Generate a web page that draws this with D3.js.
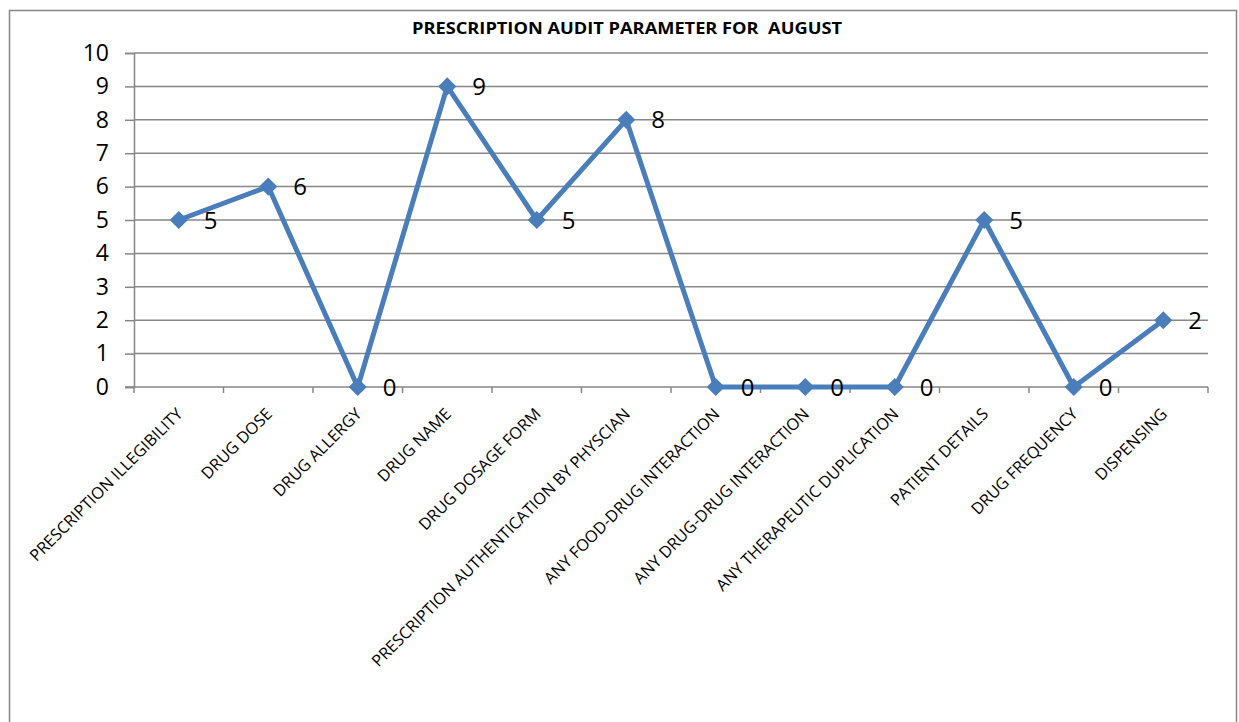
<!DOCTYPE html>
<html>
<head>
<meta charset="utf-8">
<script src="https://cdn.jsdelivr.net/npm/d3@7"></script>
<style>
  body { margin: 0; background: #fff; }
  svg { display: block; font-family: "Open Sans", "DejaVu Sans", sans-serif; }
</style>
</head>
<body>
<div id="chart"></div>
<script>
const categories = [
  "PRESCRIPTION ILLEGIBILITY",
  "DRUG DOSE",
  "DRUG ALLERGY",
  "DRUG NAME",
  "DRUG DOSAGE FORM",
  "PRESCRIPTION AUTHENTICATION BY PHYSCIAN",
  "ANY FOOD-DRUG INTERACTION",
  "ANY DRUG-DRUG INTERACTION",
  "ANY THERAPEUTIC DUPLICATION",
  "PATIENT DETAILS",
  "DRUG FREQUENCY",
  "DISPENSING"
];
const values = [5, 6, 0, 9, 5, 8, 0, 0, 0, 5, 0, 2];
const yTicks = [0, 1, 2, 3, 4, 5, 6, 7, 8, 9, 10];
const title = "PRESCRIPTION AUDIT PARAMETER FOR  AUGUST";

const W = 1239, H = 722;
const plotLeft = 134, plotRight = 1208, plotTop = 53, plotBottom = 387;
const lineColor = "#4a7ebb";
const gridColor = "#878787";

const svg = d3.select("#chart").append("svg")
  .attr("width", W)
  .attr("height", H);

// chart border
svg.append("rect")
  .attr("x", 9.5).attr("y", 10.5)
  .attr("width", 1227).attr("height", 730)
  .attr("fill", "none")
  .attr("stroke", gridColor)
  .attr("stroke-width", 1.5);

svg.append("text")
  .attr("x", 627).attr("y", 34)
  .attr("text-anchor", "middle")
  .attr("textLength", 430)
  .attr("lengthAdjust", "spacingAndGlyphs")
  .style("font-weight", "bold")
  .style("font-size", "16px")
  .style("white-space", "pre")
  .text(title);

const x = d3.scaleBand().domain(categories).range([plotLeft, plotRight]);
const y = d3.scaleLinear().domain([0, 10]).range([plotBottom, plotTop]);

// gridlines
svg.append("g")
  .selectAll("line")
  .data(yTicks.filter(d => d > 0))
  .enter()
  .append("line")
  .attr("x1", plotLeft).attr("x2", plotRight)
  .attr("y1", d => y(d)).attr("y2", d => y(d))
  .attr("stroke", gridColor)
  .attr("stroke-width", 1.5);

// y axis
const yAxis = svg.append("g")
  .attr("transform", `translate(${plotLeft},0)`)
  .call(d3.axisLeft(y).tickValues(yTicks).tickSize(9).tickPadding(16));
yAxis.select(".domain").attr("stroke", gridColor).attr("stroke-width", 1.5);
yAxis.selectAll(".tick line").attr("stroke", gridColor).attr("stroke-width", 1.5);
yAxis.selectAll(".tick text")
  .style("font-size", "23px")
  .style("font-family", "'Open Sans', sans-serif")
  .attr("fill", "#000");

// x axis
const xTickPos = categories.map(c => x(c)).concat([plotRight]);
const xAxisG = svg.append("g");
xAxisG.append("line")
  .attr("x1", plotLeft - 9).attr("x2", plotRight)
  .attr("y1", plotBottom).attr("y2", plotBottom)
  .attr("stroke", gridColor)
  .attr("stroke-width", 1.5);
xAxisG.selectAll(".xt")
  .data(xTickPos)
  .enter()
  .append("line")
  .attr("x1", d => d).attr("x2", d => d)
  .attr("y1", plotBottom).attr("y2", plotBottom + 6)
  .attr("stroke", gridColor)
  .attr("stroke-width", 1.5);

xAxisG.selectAll(".xl")
  .data(categories)
  .enter()
  .append("text")
  .attr("text-anchor", "end")
  .attr("transform", d => {
    const cx = x(d) + x.bandwidth() / 2 + 5;
    return `translate(${cx},${plotBottom + 28}) rotate(-45)`;
  })
  .style("font-size", "16.3px")
  .attr("fill", "#000")
  .text(d => d);

// line
const cxOf = (d, i) => x(categories[i]) + x.bandwidth() / 2;
const line = d3.line()
  .x((d, i) => cxOf(d, i))
  .y(d => y(d));

svg.append("path")
  .datum(values)
  .attr("d", line)
  .attr("fill", "none")
  .attr("stroke", lineColor)
  .attr("stroke-width", 5)
  .attr("stroke-linejoin", "round");

svg.append("g")
  .selectAll("path")
  .data(values)
  .enter()
  .append("path")
  .attr("d", d3.symbol().type(d3.symbolDiamond2).size(210))
  .attr("transform", (d, i) => `translate(${cxOf(d, i)},${y(d)})`)
  .attr("fill", lineColor);

// data labels
svg.append("g")
  .selectAll("text")
  .data(values)
  .enter()
  .append("text")
  .attr("x", (d, i) => cxOf(d, i) + 25)
  .attr("y", d => y(d))
  .attr("dy", "0.36em")
  .attr("text-anchor", "start")
  .style("font-size", "24px")
  .attr("fill", "#000")
  .text(d => d);
</script>
</body>
</html>
